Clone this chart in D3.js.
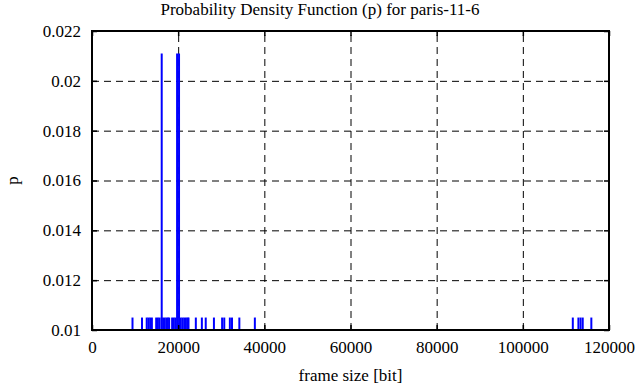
<!DOCTYPE html>
<html>
<head>
<meta charset="utf-8">
<script src="https://cdn.jsdelivr.net/npm/d3@7"></script>
<style>
  body { margin: 0; background: #fff; }
  svg { display: block; }
  .axis text { font-family: "Liberation Serif", "Times New Roman", serif; font-size: 17px; fill: #000; }
  .axis path { display: none; }
  .axis line { stroke: #000; stroke-width: 1.5; }
  .grid line { stroke: #000; stroke-width: 1; stroke-dasharray: 7,5; }
  .grid path { display: none; }
</style>
</head>
<body>
<div id="chart"></div>
<script>
// frame sizes (bit) of the impulses and their probability
const frameSizes = [
  9400, 11600,
  12700, 13100, 13500, 13900,
  14900, 15300, 15700, 16180, 16500, 16900, 17300, 17600, 17900,
  18600, 19000, 19400, 19750, 20200, 20600, 21000, 21400, 21800, 22200, 22400,
  24100, 25500, 26400, 28300, 30200, 30700, 32000, 32500, 34200, 37800,
  111600, 112900, 113400, 113900, 115900
];
const probs = [
  0.0105, 0.0105,
  0.0105, 0.0105, 0.0105, 0.0105,
  0.0105, 0.0105, 0.0105, 0.0211, 0.0105, 0.0105, 0.0105, 0.0105, 0.0105,
  0.0105, 0.0105, 0.0105, 0.0211, 0.0211, 0.0105, 0.0105, 0.0105, 0.0105, 0.0105, 0.0105,
  0.0105, 0.0105, 0.0105, 0.0105, 0.0105, 0.0105, 0.0105, 0.0105, 0.0105, 0.0105,
  0.0105, 0.0105, 0.0105, 0.0105, 0.0105
];
const xTicks = [0, 20000, 40000, 60000, 80000, 100000, 120000];
const yTicks = [0.01, 0.012, 0.014, 0.016, 0.018, 0.02, 0.022];
const title = 'Probability Density Function (p) for paris-11-6';
const xLabel = 'frame size [bit]';
const yLabel = 'p';

let totalW = 641, totalH = 387,
    margin = { top: 31, right: 32, bottom: 57, left: 92 };
let width = totalW - margin.left - margin.right,
    height = totalH - margin.top - margin.bottom;

let xScale = d3.scaleLinear().domain([0, 120000]).range([0, width]);
let yScale = d3.scaleLinear().domain([0.01, 0.022]).range([height, 0]);

let svg = d3.select('#chart').append('svg')
    .attr('width', totalW)
    .attr('height', totalH);

let main = svg.append('g')
    .attr('transform', 'translate(' + margin.left + ',' + margin.top + ')');

// dashed grid, without the border lines
main.append('g')
    .attr('class', 'grid')
    .attr('transform', 'translate(0,' + height + ')')
    .call(d3.axisBottom(xScale).tickValues(xTicks.slice(1, -1)).tickSize(-height).tickFormat(''));
main.append('g')
    .attr('class', 'grid')
    .call(d3.axisLeft(yScale).tickValues(yTicks.slice(1, -1)).tickSize(-width).tickFormat(''));

// impulses
main.append('g').selectAll('line')
    .data(frameSizes)
    .enter().append('line')
    .attr('x1', function (d) { return xScale(d); })
    .attr('x2', function (d) { return xScale(d); })
    .attr('y1', yScale(0.01))
    .attr('y2', function (d, i) { return yScale(probs[i]); })
    .attr('stroke', '#0000ff')
    .attr('stroke-width', 2);

// axes with inward ticks, mirrored on top and right
main.append('g')
    .attr('class', 'axis')
    .attr('transform', 'translate(0,' + height + ')')
    .call(d3.axisBottom(xScale).tickValues(xTicks).tickSize(-5).tickPadding(11).tickFormat(d3.format('d')));
main.append('g')
    .attr('class', 'axis')
    .call(d3.axisTop(xScale).tickValues(xTicks).tickSize(-5).tickFormat(''));
main.append('g')
    .attr('class', 'axis')
    .call(d3.axisLeft(yScale).tickValues(yTicks).tickSize(-5).tickPadding(11).tickFormat(function (d) { return String(+d.toFixed(3)); }));
main.append('g')
    .attr('class', 'axis')
    .attr('transform', 'translate(' + width + ',0)')
    .call(d3.axisRight(yScale).tickValues(yTicks).tickSize(-5).tickFormat(''));

// border box
main.append('rect')
    .attr('width', width)
    .attr('height', height)
    .attr('fill', 'none')
    .attr('stroke', '#000')
    .attr('stroke-width', 2);

let font = '"Liberation Serif", "Times New Roman", serif';

svg.append('text')
    .attr('x', 320)
    .attr('y', 15)
    .attr('text-anchor', 'middle')
    .style('font-family', font)
    .style('font-size', '17px')
    .text(title);

svg.append('text')
    .attr('x', margin.left + width / 2)
    .attr('y', 381)
    .attr('text-anchor', 'middle')
    .style('font-family', font)
    .style('font-size', '17px')
    .text(xLabel);

svg.append('text')
    .attr('transform', 'translate(18,' + (margin.top + height / 2) + ') rotate(-90)')
    .attr('text-anchor', 'middle')
    .style('font-family', font)
    .style('font-size', '17px')
    .text(yLabel);
</script>
</body>
</html>
